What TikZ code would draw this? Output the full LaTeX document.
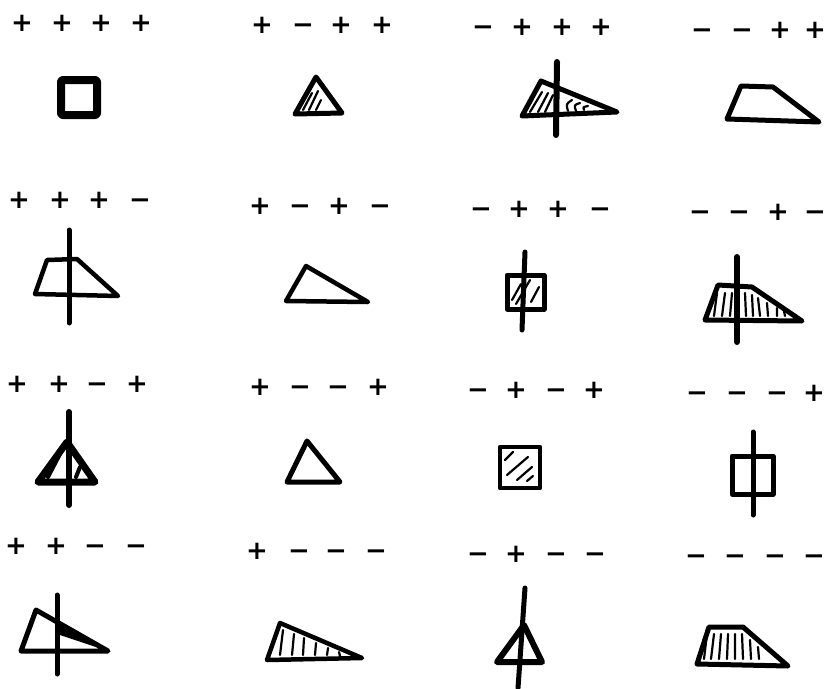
\documentclass[tikz,border=0pt]{standalone}
\usepackage{fontspec}
\newfontfamily\signfont{DejaVu Sans Bold}
\begin{document}
\begin{tikzpicture}[x=1pt,y=-1pt,
  sgn/.style={font=\signfont\fontsize{26}{26}\selectfont,inner sep=0pt,text height=18.5pt,text depth=0pt,anchor=center},
  ink/.style={draw=black,line join=round,line cap=round,line width=#1},
  ink/.default=5pt,
  hatch/.style={draw=black,line cap=round,line width=2.2pt}]
\useasboundingbox[fill=white] (0,0) rectangle (827,688);
% ---------- sign labels ----------
\foreach \x/\s [count=\k] in {22/+,62/+,101/+,141/+} \node[sgn] (a1s\k) at (\x,22) {\s};
\foreach \x/\s [count=\k] in {262/+,303/−,341/+,382/+} \node[sgn] (a2s\k) at (\x,24) {\s};
\foreach \x/\s [count=\k] in {483/−,522/+,562/+,601/+} \node[sgn] (a3s\k) at (\x,26) {\s};
\foreach \x/\s [count=\k] in {702/−,742/−,780/+,815/+} \node[sgn] (a4s\k) at (\x,29) {\s};
\foreach \x/\s [count=\k] in {19/+,60/+,99/+,140/−} \node[sgn] (b1s\k) at (\x,199) {\s};
\foreach \x/\s [count=\k] in {260/+,300/−,339/+,380/−} \node[sgn] (b2s\k) at (\x,205) {\s};
\foreach \x/\s [count=\k] in {481/−,519/+,558/+,600/−} \node[sgn] (b3s\k) at (\x,208) {\s};
\foreach \x/\s [count=\k] in {700/−,739/−,778/+,815/−} \node[sgn] (b4s\k) at (\x,211) {\s};
\foreach \x/\s [count=\k] in {17/+,59/+,97/−,137/+} \node[sgn] (c1s\k) at (\x,383) {\s};
\foreach \x/\s [count=\k] in {260/+,300/−,338/−,378/+} \node[sgn] (c2s\k) at (\x,386) {\s};
\foreach \x/\s [count=\k] in {478/−,516/+,556/−,594/+} \node[sgn] (c3s\k) at (\x,389) {\s};
\foreach \x/\s [count=\k] in {697/−,737/−,777/−,814/+} \node[sgn] (c4s\k) at (\x,392) {\s};
\foreach \x/\s [count=\k] in {16/+,56/+,95/−,136/−} \node[sgn] (d1s\k) at (\x,545) {\s};
\foreach \x/\s [count=\k] in {257/+,299/−,336/−,376/−} \node[sgn] (d2s\k) at (\x,550) {\s};
\foreach \x/\s [count=\k] in {478/−,516/+,556/−,595/−} \node[sgn] (d3s\k) at (\x,553) {\s};
\foreach \x/\s [count=\k] in {696/−,735/−,775/−,814/−} \node[sgn] (d4s\k) at (\x,555) {\s};
% ---------- row 1 ----------
\draw[ink=8pt,rounded corners=2pt] (61,80) rectangle (97,115);
\draw[ink] (316,77) -- (295,114) -- (342,113) -- cycle;
\draw[hatch] (303,110) -- (312,93) (309,110) -- (318,91) (316,110) -- (321,100);
\draw[ink] (541,81) -- (522,116) -- (617,112) -- cycle;
\draw[hatch] (530,112) -- (542,92) (538,112) -- (548,93) (545,112) -- (553,95);
\draw[hatch] (568,111) .. controls (566,104) .. (572,100) (576,111) .. controls (574,105) .. (580,103) (584,110) .. controls (583,107) .. (588,106);
\draw[ink=6pt] (557,62) -- (556,135);
\draw[ink] (741,86) -- (773,87) -- (819,122) -- (727,119) -- cycle;
% ---------- row 2 ----------
\draw[ink=4.5pt] (47,260) -- (77,259) -- (118,296) -- (35,294) -- cycle;
\draw[ink] (69,230) -- (69,323);
\draw[ink=4.5pt] (306,266) -- (286,301) -- (368,302) -- cycle;
\draw[ink] (507,275) rectangle (544,309);
\draw[hatch] (512,300) -- (521,284) (516,304) -- (530,280) (531,302) -- (539,287);
\draw[ink] (525,252) -- (522,330);
\draw[ink] (718,285) -- (752,287) -- (802,321) -- (705,320) -- cycle;
\draw[hatch] (717,293) -- (714,316) (725,293) -- (722,316) (732,293) -- (730,316)
  (745,293) -- (746,316) (752,295) -- (753,316) (758,298) -- (760,316)
  (767,303) -- (768,316) (777,308) -- (777,316) (784,311) -- (785,316);
\draw[ink=6pt] (737,257) -- (737,342);
% ---------- row 3 ----------
\draw[ink=7pt] (67,442) -- (38,482) -- (95,482) -- cycle;
\draw[draw=black,line cap=round,line width=4pt] (48,477) -- (60,454) (76,477) -- (80,467);
\draw[ink=6pt] (69,412) -- (69,505);
\draw[ink] (307,441) -- (287,482) -- (340,482) -- cycle;
\draw[ink=4.5pt] (500,447) rectangle (540,488);
\draw[hatch] (505,460) -- (513,452) (507,475) -- (528,457) (517,480) -- (532,467) (527,481) -- (533,476);
\draw[ink] (732,456) rectangle (773,494);
\draw[ink] (753,432) -- (753,515);
% ---------- row 4 ----------
\draw[ink] (36,610) -- (21,651) -- (108,651) -- cycle;
\fill[black] (57,624) -- (108,651) -- (57,634) -- cycle;
\draw[ink] (57,595) -- (57,674);
\draw[ink=4.5pt] (280,623) -- (267,660) -- (362,658) -- cycle;
\draw[hatch] (283,630) -- (280,655) (294,634) -- (292,655) (304,638) -- (303,655)
  (316,643) -- (315,655) (328,648) -- (327,655) (339,652) -- (340,656);
\draw[ink=6pt] (524,625) -- (497,662) -- (542,662) -- cycle;
\draw[ink] (525,588) -- (518,688);
\draw[ink] (709,627) -- (743,627) -- (788,666) -- (697,664) -- cycle;
\draw[hatch] (707,634) -- (704,659) (714,634) -- (711,659) (721,634) -- (719,659)
  (728,634) -- (727,659) (735,634) -- (735,659) (742,634) -- (743,659)
  (750,640) -- (751,659) (758,647) -- (759,659);
\end{tikzpicture}
\end{document}
